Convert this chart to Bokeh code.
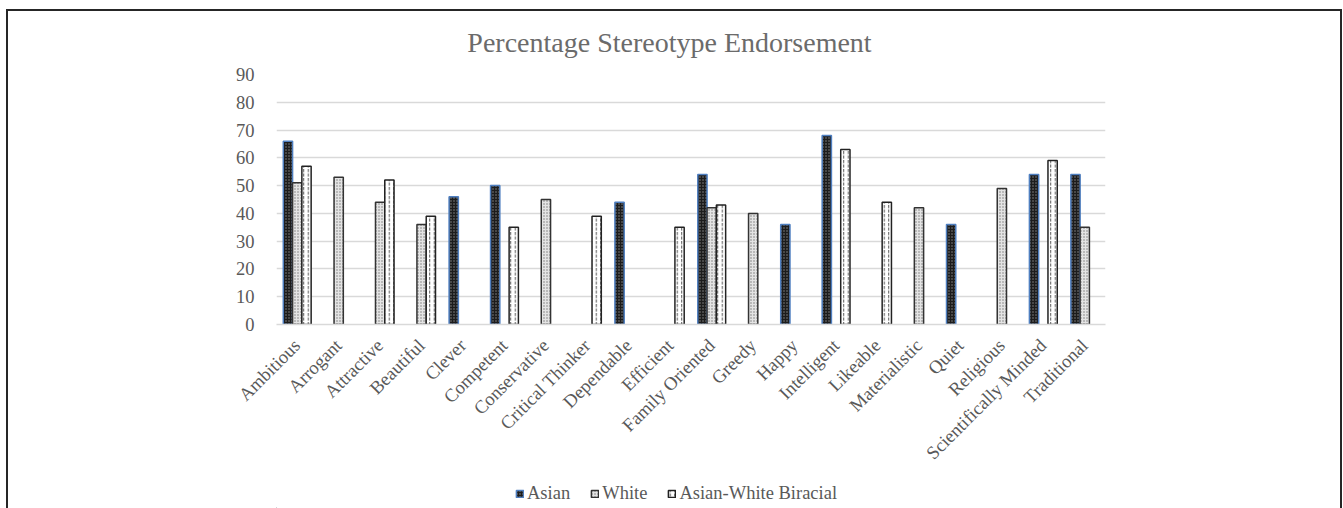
from math import pi

from bokeh.plotting import figure
from bokeh.layouts import column
from bokeh.models import (ColumnDataSource, FactorRange, Range1d, Legend,
                          LegendItem, Label, FixedTicker)
from bokeh.transform import dodge
from bokeh.embed import file_html
from bokeh.resources import INLINE

# Traits rated and the share of respondents endorsing each for every group
categories = ["Ambitious", "Arrogant", "Attractive", "Beautiful", "Clever",
              "Competent", "Conservative", "Critical Thinker", "Dependable",
              "Efficient", "Family Oriented", "Greedy", "Happy", "Intelligent",
              "Likeable", "Materialistic", "Quiet", "Religious",
              "Scientifically Minded", "Traditional"]
asian = [66, None, None, None, 46, 50, None, None, 44, None,
         54, None, 36, 68, None, None, 36, None, 54, 54]
white = [51, 53, 44, 36, None, None, 45, None, None, None,
         42, 40, None, None, None, 42, None, 49, None, 35]
biracial = [57, None, 52, 39, None, 35, None, 39, None, 35,
            43, None, None, 63, 44, None, None, None, 59, None]
series_names = ["Asian", "White", "Asian-White Biracial"]
y_ticks = [0, 10, 20, 30, 40, 50, 60, 70, 80, 90]
chart_title = "Percentage Stereotype Endorsement"

FONT = "Liberation Serif"
TEXT = "#595959"
GRID = "#d9d9d9"
W = 1332
LEFT, RIGHT = 268, 235          # borders shared by all three strips


def source_for(values):
    cats = [c for c, v in zip(categories, values) if v is not None]
    vals = [v for v in values if v is not None]
    return ColumnDataSource(dict(cat=cats, val=vals))


def bare_figure(height):
    # x data units equal pixels across the strip, y units equal pixels from its bottom
    f = figure(width=W, height=height, title=None,
               x_range=Range1d(LEFT, W - RIGHT), y_range=Range1d(0, height),
               x_axis_type=None, y_axis_type=None,
               output_backend="svg", toolbar_location=None,
               min_border_left=LEFT, min_border_right=RIGHT,
               min_border_top=0, min_border_bottom=0,
               outline_line_color=None, background_fill_color="white",
               border_fill_color="white")
    f.xgrid.visible = False
    f.ygrid.visible = False
    return f


# --- title strip ---
top = bare_figure(50)
top.add_layout(Label(x=661, y=19, text=chart_title, text_align="center",
                     text_baseline="alphabetic", text_font=FONT,
                     text_font_size="28px", text_color="#6b6b6b"))

# --- main bar chart ---
p = figure(
    width=W, height=420, title=None,
    x_range=FactorRange(*categories),
    y_range=Range1d(0, 90),
    output_backend="svg", toolbar_location=None,
    min_border_left=LEFT, min_border_right=RIGHT,
    min_border_top=13, min_border_bottom=157,
    background_fill_color="white", border_fill_color="white",
    outline_line_color=None,
)

bw = 0.224
styles = [
    dict(fill_color="#1c1c1c", hatch_pattern="dot", hatch_color="#8a8a8a",
         hatch_scale=3, hatch_weight=1, line_color="#4f7fc0", line_width=1.5),
    dict(fill_color="#e4e4e4", hatch_pattern="dot", hatch_color="#777777",
         hatch_scale=3, hatch_weight=1, line_color="#333333", line_width=1.5),
    dict(fill_color="white", hatch_pattern="vertical_dash", hatch_color="#555555",
         hatch_scale=4.5, hatch_weight=1, line_color="#222222", line_width=1.5),
]
offsets = [-bw, 0.0, bw]
for vals, off, st in zip([asian, white, biracial], offsets, styles):
    p.vbar(x=dodge("cat", off, range=p.x_range), top="val", width=bw,
           bottom=0, source=source_for(vals), **st)

p.yaxis.ticker = FixedTicker(ticks=y_ticks)
p.yaxis.axis_line_color = None
p.yaxis.major_tick_line_color = None
p.yaxis.minor_tick_line_color = None
p.yaxis.major_label_standoff = 16
p.xaxis.axis_line_color = GRID
p.xaxis.axis_line_width = 1.5
p.xaxis.major_tick_line_color = None
p.xaxis.minor_tick_line_color = None
p.xaxis.major_label_orientation = pi / 4
p.xaxis.major_label_standoff = 12
for ax in (p.xaxis, p.yaxis):
    ax.major_label_text_font = FONT
    ax.major_label_text_font_size = "18.5px"
    ax.major_label_text_color = TEXT
p.xgrid.grid_line_color = None
p.ygrid.grid_line_color = GRID
p.ygrid.grid_line_width = 1.5

# --- legend strip: swatch renderers carry the bar styles, parked far outside the view ---
bottom = bare_figure(27)
swatches = []
for st in styles:
    r = bottom.vbar(x=[-10000.0], top=[-10.0], bottom=-20.0, width=1, **st)
    swatches.append(r)
legend = Legend(
    items=[LegendItem(label=n, renderers=[r]) for n, r in zip(series_names, swatches)],
    orientation="horizontal", location=(239, 4),
    glyph_width=9, glyph_height=9, label_standoff=3, spacing=20,
    padding=0, margin=0, border_line_color=None, background_fill_alpha=0,
    label_text_font=FONT, label_text_font_size="18.5px", label_text_color=TEXT,
)
bottom.add_layout(legend, "center")

page = column(top, p, bottom, spacing=0,
              styles={"margin-left": "6px", "margin-top": "9px",
                      "border-left": "2px solid #262626",
                      "border-top": "2px solid #262626",
                      "border-right": "2px solid #262626"})

open("out.html", "w").write(file_html(page, INLINE))
